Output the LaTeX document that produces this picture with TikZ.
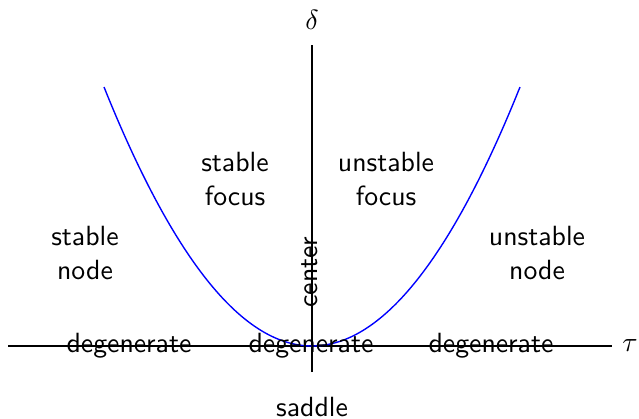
\documentclass[tikz,border=0pt]{standalone}
\begin{document}
\begin{tikzpicture}[x=0.36pt,y=-0.36pt,
  lbl/.style={font=\sffamily,align=center,inner sep=0pt},
  axis/.style={line width=0.4pt},
  curve/.style={blue,line width=0.5pt}]
\useasboundingbox (0,0) rectangle (639,418);
% axes
\coordinate (xl) at (8,346);
\coordinate (xr) at (612,346);
\coordinate (yt) at (312,45);
\coordinate (yb) at (312,372);
\coordinate (dl) at (65,346);
\coordinate (dr) at (555,346);
\draw[axis] (xl) -- (xr);
\draw[line width=0.6pt] (dl) -- (dr);
\draw[axis] (yb) -- (yt);
\node (tau) at (630,346) {$\tau$};
\node (delta) at (312,20) {$\delta$};
% parabola
\draw[curve] plot[domain=-208:208,samples=100,smooth] ({312+\x},{346-259*(\x/208)*(\x/208)});
% labels
\node[lbl] (sf) at (235,179) {stable\\focus};
\node[lbl] (uf) at (386,179) {unstable\\focus};
\node[lbl] (sn) at (85,253) {stable\\node};
\node[lbl] (un) at (537,253) {unstable\\node};
\node[lbl,rotate=90] (ce) at (310,272) {center};
\node[lbl] (d1) at (129,346) {degenerate};
\node[lbl] (d2) at (311,346) {degenerate};
\node[lbl] (d3) at (491,346) {degenerate};
\node[lbl] (sa) at (312,407) {saddle};
\end{tikzpicture}
\end{document}
